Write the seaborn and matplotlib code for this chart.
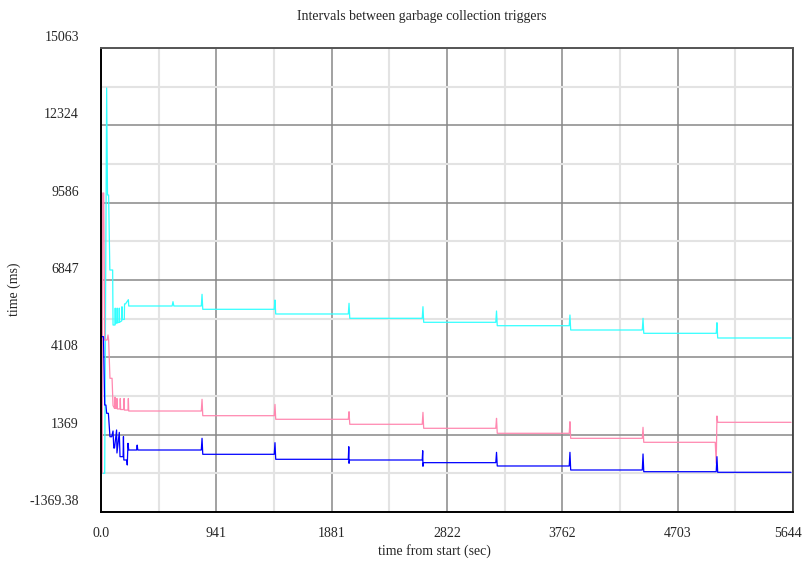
import matplotlib
matplotlib.use("Agg")
import matplotlib.pyplot as plt
import matplotlib.transforms as mtransforms
import seaborn as sns

# cyan series (seconds, ms)
cyan_t = [0, 30, 46, 53, 62, 72, 95, 98, 114, 116, 118, 130, 132, 134, 147, 149, 151,
          169, 171, 173, 190, 192, 200, 223, 226, 580, 587, 594, 818, 824, 830,
          1413, 1419, 1425, 2017, 2023, 2029, 2620, 2626, 2632, 3220, 3226, 3232,
          3819, 3825, 3831, 4415, 4421, 4427, 5018, 5024, 5030, 5628]
cyan_ms = [0, 0, 13646, 9857, 9857, 7201, 7201, 5253, 5253, 5850, 5300, 5330, 5850, 5330, 5350, 5850, 5350,
           5400, 5900, 5450, 5450, 6000, 6000, 6150, 5926, 5926, 6080, 5926, 5926, 6340, 5809,
           5809, 6138, 5643, 5643, 6022, 5490, 5490, 5902, 5349, 5349, 5749, 5228,
           5228, 5607, 5076, 5076, 5490, 4959, 4959, 5334, 4793, 4793]

# pink series
pink_t = [0, 10, 14, 22, 30, 50, 57, 62, 73, 90, 98, 110, 114, 117, 126, 130, 133,
          155, 157, 160, 185, 188, 191, 220, 223, 226, 818, 824, 830,
          1413, 1419, 1425, 2017, 2023, 2029, 2620, 2626, 2632, 3220, 3226, 3232,
          3819, 3825, 3831, 4415, 4421, 4427, 5010, 5018, 5024, 5030, 5628]
pink_ms = [0, 0, 9928, 9928, 4722, 4722, 4900, 4722, 3366, 3366, 2400, 2300, 2700, 2300, 2300, 2650, 2280,
           2280, 2650, 2260, 2260, 2650, 2240, 2240, 2650, 2207, 2207, 2622, 2041,
           2041, 2440, 1914, 1914, 2182, 1737, 1737, 2160, 1595, 1595, 1948, 1418,
           1418, 1828, 1240, 1240, 1630, 1099, 1099, 355, 2030, 1807, 1807]

# blue series
blue_t = [0, 3, 20, 30, 40, 46, 60, 73, 87, 98, 104, 110, 127, 130, 149, 155, 180, 183, 186,
          210, 214, 220, 226, 290, 295, 300, 818, 824, 830, 1413, 1419, 1425,
          2017, 2021, 2023, 2027, 2620, 2624, 2626, 2630, 3220, 3226, 3232,
          3819, 3825, 3831, 4415, 4421, 4427, 5018, 5024, 5030, 5628]
blue_ms = [0, 4840, 4840, 2419, 2419, 2126, 2126, 1296, 1296, 1500, 897, 897, 1535, 720, 1450, 590, 590, 1300, 472,
           472, 295, 1063, 826, 826, 1000, 826, 826, 1241, 674, 674, 1086, 497,
           497, 943, 355, 472, 472, 801, 250, 378, 378, 744, 260,
           260, 744, 118, 118, 685, 58, 58, 590, 37, 37]

x_ticks = [0, 940.67, 1881.33, 2822, 3762.67, 4703.33, 5644]
x_labels = ["0.0", "941", "1881", "2822", "3762", "4703", "5644"]
y_ticks = [-1369.38, 1369.35, 4108.08, 6846.81, 9585.54, 12324.27, 15063]
y_labels = ["-1369.38", "1369", "4108", "6847", "9586", "12324", "15063"]

sns.set_style("white")
plt.rcParams['font.family'] = ['Liberation Serif', 'DejaVu Serif']

fig = plt.figure(figsize=(8.03, 5.64), dpi=100)
ax = fig.add_axes([0.1258, 0.0922, 0.8617, 0.8227])

sns.lineplot(x=cyan_t, y=cyan_ms, color='#33ffff', lw=0.9, estimator=None, sort=False, ax=ax)
sns.lineplot(x=pink_t, y=pink_ms, color='#ff88b0', lw=0.9, estimator=None, sort=False, ax=ax)
sns.lineplot(x=blue_t, y=blue_ms, color='#0000ff', lw=0.9, estimator=None, sort=False, ax=ax)

ax.set_xlim(0, 5644)
ax.set_ylim(-1369.38, 15063)
ax.set_xticks(x_ticks)
ax.set_xticklabels(x_labels, fontsize=10)
ax.set_yticks(y_ticks)
ax.set_yticklabels(y_labels, fontsize=10)
ax.set_xticks([(a + b) / 2 for a, b in zip(x_ticks[:-1], x_ticks[1:])], minor=True)
ax.set_yticks([(a + b) / 2 for a, b in zip(y_ticks[:-1], y_ticks[1:])], minor=True)

ax.set_axisbelow(True)
ax.grid(which='major', color='#888888', lw=1.1)
ax.grid(which='minor', color='#e3e3e3', lw=1.5)
ax.tick_params(which='major', length=8, width=1.1, color='#888888', pad=3)
ax.tick_params(which='minor', length=8, width=1.5, color='#e3e3e3')
ax.tick_params(axis='y', pad=8)

# y labels sit a bit above their grid line
offset = mtransforms.ScaledTranslation(0, 12 / 100, fig.dpi_scale_trans)
for lbl in ax.get_yticklabels():
    lbl.set_transform(lbl.get_transform() + offset)
# last x label pulled in so it stays on the canvas
last = ax.get_xticklabels()[-1]
last.set_transform(last.get_transform() + mtransforms.ScaledTranslation(-5 / 100, 0, fig.dpi_scale_trans))

for side in ['left', 'bottom']:
    ax.spines[side].set_color('black')
    ax.spines[side].set_linewidth(1.4)
ax.spines['top'].set_color('#555555')
ax.spines['right'].set_color('#333333')
ax.spines['top'].set_linewidth(1.4)
ax.spines['right'].set_linewidth(1.2)

ax.set_title('Intervals between garbage collection triggers', fontsize=10,
             x=0.464, y=1.067, va='center', pad=0)
ax.set_xlabel('time from start (sec)', fontsize=10)
ax.set_ylabel('time (ms)', fontsize=10)
ax.xaxis.set_label_coords(0.482, -0.07)
ax.yaxis.set_label_coords(-0.1156, 0.48)

fig.savefig('out.png', dpi=100)
